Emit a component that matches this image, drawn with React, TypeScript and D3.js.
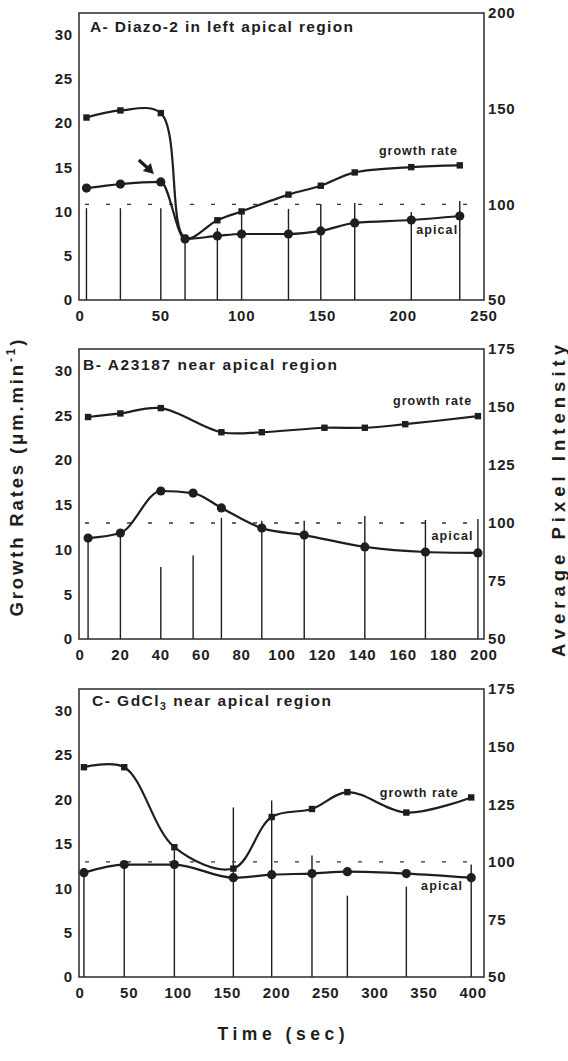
import React from 'react';
import * as d3 from 'd3';

// Panel A - Diazo-2
const timeA = [4, 25, 50, 65, 85, 100, 129, 149, 170, 205, 235];
const growthA = [20.6, 21.4, 21.1, 7.0, 9.0, 10.0, 11.9, 12.9, 14.4, 15.0, 15.2];
const apicalA = [108.5, 110.6, 111.7, 81.9, 83.5, 84.5, 84.5, 86.1, 90.3, 91.8, 93.9];
const barsA = [98, 98, 98, 82, 87.6, 96.5, 97.6, 100.2, 100.7, 96, 101.7];

// Panel B - A23187
const timeBGrowth = [4, 20, 40, 70, 90, 121, 141, 161, 197];
const growthB = [24.8, 25.2, 25.8, 23.1, 23.1, 23.6, 23.6, 24.0, 24.9];
const timeBApical = [4, 20, 40, 56, 70, 90, 111, 141, 171, 197];
const apicalB = [93.5, 95.7, 113.8, 112.9, 106.5, 97.8, 94.8, 89.7, 87.5, 87.1];
const barsB = [93.5, 95.7, 81, 86, 102.2, 101, 101, 103, 101.3, 101.7];

// Panel C - GdCl3
const timeC = [4, 45, 96, 156, 195, 236, 272, 332, 398];
const growthC = [23.6, 23.6, 14.6, 12.2, 18.0, 18.9, 20.8, 18.5, 20.2];
const apicalC = [95.3, 98.8, 98.8, 93.1, 94.4, 94.9, 95.7, 94.9, 93.1];
const barsC = [95.3, 98.8, 105, 123.6, 126.6, 102.7, 85.3, 89.2, 98.8];

const leftTicks = [0, 5, 10, 15, 20, 25, 30];

const FONT = "'Liberation Sans', Arial, Helvetica, sans-serif";
const INK = '#1e1e1e';

const panels = [
  {
    key: 'A', top: 13, bottom: 300, xMax: 250, xTicks: d3.range(0, 251, 50),
    rDomain: [50, 200], rTicks: [50, 100, 150, 200],
    title: 'A- Diazo-2 in left apical region', titleX: 90, titleDy: 19, titleLen: 263,
    gTime: timeA, growth: growthA, aTime: timeA, apical: apicalA, bars: barsA,
    gLabel: [185, 16.4], aLabel: [208, 7.45], arrow: true,
  },
  {
    key: 'B', top: 349, bottom: 639, xMax: 200, xTicks: d3.range(0, 201, 20),
    rDomain: [50, 175], rTicks: [50, 75, 100, 125, 150, 175],
    title: 'B- A23187 near apical region', titleX: 83, titleDy: 21, titleLen: 254,
    gTime: timeBGrowth, growth: growthB, aTime: timeBApical, apical: apicalB, bars: barsB,
    gLabel: [155, 26.1], aLabel: [174, 11.1], arrow: false,
  },
  {
    key: 'C', top: 689, bottom: 977, xMax: 411, xTicks: d3.range(0, 401, 50),
    rDomain: [50, 175], rTicks: [50, 75, 100, 125, 150, 175],
    title: 'C- GdCl', titleX: 92, titleDy: 17, titleLen: 239,
    gTime: timeC, growth: growthC, aTime: timeC, apical: apicalC, bars: barsC,
    gLabel: [305, 20.2], aLabel: [347, 9.8], arrow: false,
  },
];

const LEFT = 79;
const RIGHT = 484;

function Panel({ p }: { p: any }) {
  const x = d3.scaleLinear().domain([0, p.xMax]).range([80, RIGHT]);
  const yL = d3.scaleLinear().domain([0, 32.4]).range([p.bottom, p.top]);
  const yR = d3.scaleLinear().domain(p.rDomain).range([p.bottom, p.top]);

  const gPts: [number, number][] = p.gTime.map((t: number, i: number) => [x(t), yL(p.growth[i])]);
  const aPts: [number, number][] = p.aTime.map((t: number, i: number) => [x(t), yR(p.apical[i])]);
  const gLine = d3.line().curve(d3.curveCatmullRom.alpha(0.5))(gPts) || '';
  const aLine = d3.line().curve(d3.curveMonotoneX)(aPts) || '';

  const arrowBase = p.arrow ? [x(p.aTime[2]), yR(p.apical[2])] : null;

  return (
    <g>
      {/* stems */}
      {p.aTime.map((t: number, i: number) => (
        <line key={'s' + i} x1={x(t)} x2={x(t)} y1={p.bottom} y2={yR(p.bars[i])}
          stroke={INK} strokeWidth={1.4} />
      ))}
      {/* reference line at 100 */}
      <line x1={LEFT} x2={RIGHT} y1={yR(100)} y2={yR(100)} stroke="#333"
        strokeWidth={1.3} strokeDasharray="4 17" strokeDashoffset={-6} />
      {/* frame */}
      <rect x={LEFT} y={p.top} width={RIGHT - LEFT} height={p.bottom - p.top}
        fill="none" stroke="#2a2a2a" strokeWidth={1.5} />
      {/* lines */}
      <path d={gLine} fill="none" stroke={INK} strokeWidth={2.2} />
      <path d={aLine} fill="none" stroke={INK} strokeWidth={2.2} />
      {gPts.map((d, i) => (
        <rect key={'g' + i} x={d[0] - 3.2} y={d[1] - 3.2} width={6.4} height={6.4} fill={INK} />
      ))}
      {aPts.map((d, i) => (
        <circle key={'a' + i} cx={d[0]} cy={d[1]} r={4.6} fill={INK} />
      ))}
      {arrowBase && (
        <g>
          <line x1={arrowBase[0] - 22} y1={arrowBase[1] - 22} x2={arrowBase[0] - 12}
            y2={arrowBase[1] - 13} stroke={INK} strokeWidth={3.2} />
          <polygon
            points={`${arrowBase[0] - 7},${arrowBase[1] - 8} ${arrowBase[0] - 18},${arrowBase[1] - 11} ${arrowBase[0] - 10},${arrowBase[1] - 19}`}
            fill={INK} />
        </g>
      )}
      {/* series labels */}
      <text x={x(p.gLabel[0])} y={yL(p.gLabel[1])} fontFamily={FONT} fontWeight="bold"
        fontSize={12.5} fill={INK} textLength={78} lengthAdjust="spacing">growth rate</text>
      <text x={x(p.aLabel[0])} y={yL(p.aLabel[1])} fontFamily={FONT} fontWeight="bold"
        fontSize={12.5} fill={INK} textLength={41} lengthAdjust="spacing">apical</text>
      {/* title */}
      <text x={p.titleX} y={p.top + p.titleDy} fontFamily={FONT} fontWeight="bold"
        fontSize={15.5} fill={INK} textLength={p.titleLen} lengthAdjust="spacing">
        {p.key === 'C' ? (
          <>
            C- GdCl<tspan fontSize={10.5} dy={4}>3</tspan>
            <tspan dy={-4}> near apical region</tspan>
          </>
        ) : p.title}
      </text>
      {/* left ticks */}
      {leftTicks.map((t) => (
        <text key={'l' + t} x={73} y={yL(t)} dy="0.36em" textAnchor="end" fontFamily={FONT}
          fontWeight="bold" fontSize={15} letterSpacing={0.8} fill={INK}>{t}</text>
      ))}
      {/* right ticks */}
      {p.rTicks.map((t: number) => (
        <text key={'r' + t} x={488} y={yR(t)} dy="0.36em" fontFamily={FONT}
          fontWeight="bold" fontSize={15} letterSpacing={0.8} fill={INK}>{t}</text>
      ))}
      {/* x ticks */}
      {p.xTicks.map((t: number) => (
        <text key={'x' + t} x={x(t)} y={p.bottom + 21} textAnchor="middle" fontFamily={FONT}
          fontWeight="bold" fontSize={15} letterSpacing={0.8} fill={INK}>{t}</text>
      ))}
    </g>
  );
}

export default function App() {
  return (
    <svg width={568} height={1061} viewBox="0 0 568 1061"
      style={{ position: 'absolute', left: 0, top: 0, background: '#fff' }}>
      <rect width={568} height={1061} fill="#fff" />
      {panels.map((p) => <Panel key={p.key} p={p} />)}
      <text transform="translate(23,478) rotate(-90)" textAnchor="middle" fontFamily={FONT}
        fontWeight="bold" fontSize={18.5} fill={INK} textLength={277} lengthAdjust="spacing">
        Growth Rates (μm.min<tspan fontSize={12} dy={-8}>-1</tspan><tspan dy={8}>)</tspan>
      </text>
      <text transform="translate(565,501) rotate(-90)" textAnchor="middle" fontFamily={FONT}
        fontWeight="bold" fontSize={18.5} fill={INK} textLength={312} lengthAdjust="spacing">
        Average Pixel Intensity
      </text>
      <text x={281} y={1040} textAnchor="middle" fontFamily={FONT} fontWeight="bold"
        fontSize={17.5} fill={INK} textLength={127} lengthAdjust="spacing">Time (sec)</text>
    </svg>
  );
}
